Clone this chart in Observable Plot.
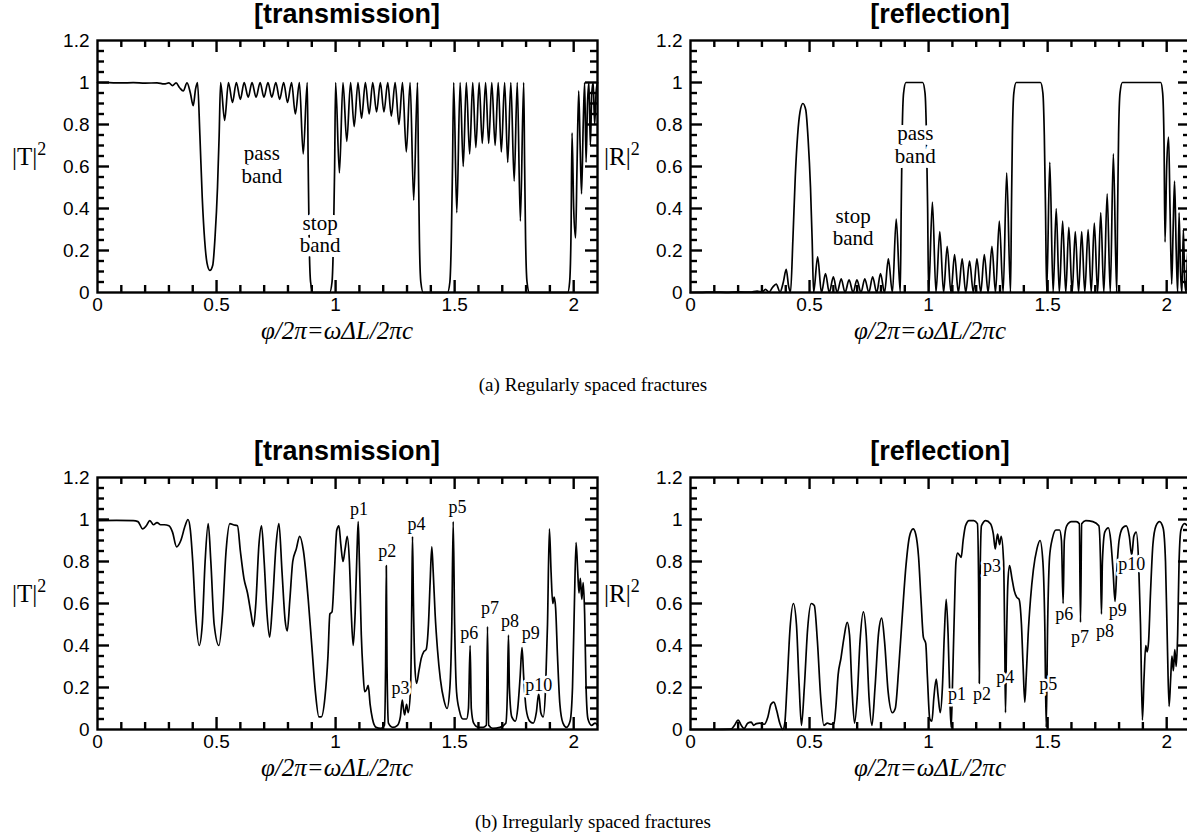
<!DOCTYPE html>
<html><head><meta charset="utf-8">
<script src="https://cdn.jsdelivr.net/npm/d3@7"></script>
<script src="https://cdn.jsdelivr.net/npm/@observablehq/plot@0.6"></script>
<style>
html,body{margin:0;padding:0;background:#fff;}
body{width:1187px;height:838px;overflow:hidden;position:relative;}
.t{position:absolute;transform:translate(-50%,-50%);white-space:nowrap;line-height:1;color:#000;}
.title{font-family:"Liberation Sans",Arial,sans-serif;font-weight:bold;font-size:27px;}
.xlab{font-family:"Liberation Serif","Times New Roman",serif;font-style:italic;font-size:25px;}
.cap{font-family:"Liberation Serif","Times New Roman",serif;font-size:19px;}
.ylab{position:absolute;font-family:"Liberation Serif","Times New Roman",serif;font-size:25px;line-height:1;white-space:nowrap;}
.ylab sup{font-size:18px;vertical-align:0.55em;line-height:0;}
.panel{position:absolute;width:600px;height:300px;}
</style></head><body>
<script>
// ---------- data ----------
const xTickLabels = [0, 0.5, 1, 1.5, 2];
const yTickLabels = [0, 0.2, 0.4, 0.6, 0.8, 1, 1.2];
const xMinorTicks = [0.1,0.2,0.3,0.4,0.6,0.7,0.8,0.9,1.1,1.2,1.3,1.4,1.6,1.7,1.8,1.9];
const xMajorTicks = [0.5, 1, 1.5, 2];
const yMinorTicks = [0.05,0.1,0.15,0.25,0.3,0.35,0.45,0.5,0.55,0.65,0.7,0.75,0.85,0.9,0.95,1.05,1.1,1.15];
const yMajorTicks = [0.2, 0.4, 0.6, 0.8, 1.0];

// (a) regularly spaced: |T|^2
const transRegular = [
[0,1.0],[0.05,0.999],[0.1,0.998],[0.15,0.999],[0.2,0.997],[0.25,0.998],[0.28,0.993],[0.3,0.998],[0.315,0.985],[0.33,0.998],[0.345,0.975],[0.36,0.96],[0.376,0.998],[0.39,0.95],[0.402,0.89],[0.412,0.97],[0.42,1.0],[0.43,0.75],[0.44,0.45],[0.45,0.25],[0.46,0.14],[0.472,0.105],[0.484,0.13],[0.494,0.27],[0.504,0.5],[0.511,0.75],
[0.517,1],[0.534,0.82],[0.55,1],[0.567,0.905],[0.583,1],[0.6,0.92],[0.616,1],[0.633,0.93],[0.649,1],[0.666,0.93],[0.683,1],[0.699,0.93],[0.716,1],[0.732,0.93],[0.749,1],[0.765,0.92],[0.782,1],[0.798,0.905],[0.815,1],[0.831,0.85],[0.848,1],[0.864,0.66],[0.881,1],
[0.885,0.6],[0.889,0.25],[0.895,0.05],[0.905,0],[0.94,0],[0.975,0],[0.985,0.05],[0.991,0.25],[0.996,0.6],
[1.0,1],[1.016,0.57],[1.031,1],[1.047,0.72],[1.063,1],[1.078,0.79],[1.094,1],[1.109,0.83],[1.125,1],[1.141,0.85],[1.156,1],[1.172,0.86],[1.188,1],[1.203,0.86],[1.219,1],[1.234,0.84],[1.25,1],[1.266,0.8],[1.281,1],[1.297,0.67],[1.313,1],[1.328,0.44],[1.344,1],
[1.348,0.6],[1.352,0.25],[1.358,0.05],[1.368,0],[1.42,0],[1.47,0],[1.48,0.05],[1.486,0.25],[1.491,0.6],
[1.496,1],[1.509,0.38],[1.523,1],[1.536,0.6],[1.549,1],[1.563,0.66],[1.576,1],[1.589,0.69],[1.603,1],[1.616,0.71],[1.63,1],[1.643,0.71],[1.656,1],[1.67,0.7],[1.683,1],[1.696,0.67],[1.71,1],[1.723,0.62],[1.736,1],[1.75,0.53],[1.763,1],[1.776,0.34],[1.79,1],
[1.794,0.6],[1.798,0.25],[1.804,0.05],[1.814,0],[1.9,0],[1.975,0],[1.983,0.05],[1.989,0.3],
[1.993,0.76],[2.0,0.4],[2.008,0.26],[2.014,0.6],[2.021,0.96],[2.027,0.7],[2.033,0.47],[2.04,0.8],[2.046,1.0],[2.052,0.62],[2.058,0.9],[2.064,1.0],[2.07,0.7],[2.076,0.95],[2.082,1.0],[2.088,0.8],[2.094,0.95],[2.1,1.0]
];

// (a) regularly spaced: |R|^2
const reflRegular = [
[0,0],[0.05,0.001],[0.1,0.002],[0.15,0.001],[0.2,0.003],[0.25,0.002],[0.28,0.007],[0.3,0.002],[0.315,0.015],[0.33,0.002],[0.345,0.025],[0.36,0.04],[0.376,0.002],[0.39,0.05],[0.402,0.11],[0.412,0.03],[0.42,0],[0.43,0.25],[0.44,0.55],[0.45,0.75],[0.46,0.86],[0.472,0.9],[0.484,0.87],[0.494,0.73],[0.504,0.5],[0.511,0.25],
[0.517,0],[0.534,0.17],[0.55,0],[0.567,0.09],[0.583,0],[0.6,0.075],[0.616,0],[0.633,0.065],[0.649,0],[0.666,0.06],[0.683,0],[0.699,0.06],[0.716,0],[0.732,0.065],[0.749,0],[0.765,0.075],[0.782,0],[0.798,0.09],[0.815,0],[0.831,0.16],[0.848,0],[0.864,0.35],[0.881,0],
[0.885,0.4],[0.889,0.75],[0.895,0.95],[0.905,1],[0.94,1],[0.975,1],[0.985,0.95],[0.991,0.75],[0.996,0.4],
[1.0,0],[1.016,0.43],[1.031,0],[1.047,0.29],[1.063,0],[1.078,0.22],[1.094,0],[1.109,0.18],[1.125,0],[1.141,0.16],[1.156,0],[1.172,0.15],[1.188,0],[1.203,0.16],[1.219,0],[1.234,0.18],[1.25,0],[1.266,0.22],[1.281,0],[1.297,0.34],[1.313,0],[1.328,0.57],[1.344,0],
[1.348,0.4],[1.352,0.75],[1.358,0.95],[1.368,1],[1.42,1],[1.47,1],[1.48,0.95],[1.486,0.75],[1.491,0.4],
[1.496,0],[1.509,0.62],[1.523,0],[1.536,0.4],[1.549,0],[1.563,0.34],[1.576,0],[1.589,0.31],[1.603,0],[1.616,0.29],[1.63,0],[1.643,0.29],[1.656,0],[1.67,0.3],[1.683,0],[1.696,0.33],[1.71,0],[1.723,0.38],[1.736,0],[1.75,0.47],[1.763,0],[1.776,0.66],[1.79,0],
[1.794,0.4],[1.798,0.75],[1.804,0.95],[1.814,1],[1.9,1],[1.975,1],[1.983,0.95],[1.989,0.7],
[1.993,0.24],[2.0,0.6],[2.008,0.74],[2.014,0.4],[2.021,0.04],[2.027,0.3],[2.033,0.53],[2.04,0.2],[2.046,0],[2.052,0.38],[2.058,0.1],[2.064,0],[2.07,0.3],[2.076,0.05],[2.082,0],[2.088,0.2],[2.094,0.05],[2.1,0]
];

// (b) irregularly spaced: |T|^2
const transIrregular = [
[0,0.995],[0.08,0.996],[0.15,0.995],[0.17,0.99],[0.19,0.955],[0.205,0.97],[0.22,0.995],[0.235,0.975],[0.25,0.985],[0.265,0.975],[0.28,0.975],[0.3,0.97],[0.315,0.94],[0.332,0.87],[0.35,0.9],[0.368,0.97],[0.38,1.0],[0.39,0.95],[0.4,0.8],[0.412,0.55],[0.427,0.4],[0.44,0.5],[0.452,0.8],[0.465,0.98],[0.476,0.8],[0.49,0.5],[0.51,0.4],[0.525,0.55],[0.54,0.85],[0.556,0.98],[0.57,0.975],[0.588,0.97],[0.6,0.85],[0.615,0.72],[0.63,0.65],[0.645,0.55],[0.655,0.49],[0.665,0.6],[0.678,0.88],[0.689,0.97],[0.7,0.8],[0.712,0.55],[0.723,0.44],[0.735,0.6],[0.75,0.88],[0.762,0.98],[0.775,0.75],[0.788,0.52],[0.797,0.47],[0.808,0.62],[0.82,0.8],[0.835,0.86],[0.849,0.92],[0.865,0.85],[0.885,0.62],[0.9,0.4],[0.915,0.18],[0.93,0.06],[0.94,0.06],[0.955,0.15],[0.968,0.35],[0.976,0.55],[0.985,0.56],[0.995,0.75],
[1.005,0.95],[1.014,0.97],[1.022,0.88],[1.031,0.8],[1.04,0.86],[1.049,0.92],[1.058,0.8],[1.066,0.55],[1.074,0.4],[1.082,0.55],[1.09,0.85],[1.095,0.99],[1.1,0.8],[1.108,0.45],[1.115,0.28],[1.122,0.18],[1.13,0.19],[1.137,0.21],[1.145,0.12],[1.155,0.05],[1.17,0.01],[1.19,0.005],[1.205,0.02],[1.21,0.3],[1.213,0.78],[1.216,0.3],[1.222,0.03],[1.24,0.01],[1.26,0.02],[1.272,0.06],[1.28,0.14],[1.285,0.1],[1.29,0.07],[1.298,0.12],[1.305,0.08],[1.315,0.2],[1.32,0.6],[1.323,0.92],[1.327,0.6],[1.333,0.3],[1.34,0.22],[1.35,0.28],[1.36,0.34],[1.37,0.37],[1.38,0.38],[1.39,0.5],[1.397,0.7],[1.404,0.87],[1.41,0.75],[1.418,0.55],[1.428,0.38],[1.44,0.24],[1.455,0.14],[1.468,0.1],[1.48,0.2],[1.488,0.5],[1.494,0.99],[1.5,0.5],[1.508,0.18],[1.52,0.09],[1.535,0.05],[1.55,0.05],[1.558,0.1],[1.565,0.4],[1.57,0.1],[1.58,0.03],[1.6,0.01],[1.62,0.01],[1.633,0.02],[1.638,0.49],[1.643,0.02],[1.66,0.005],[1.69,0.01],[1.715,0.03],[1.722,0.2],[1.726,0.45],[1.73,0.2],[1.74,0.06],[1.755,0.04],[1.765,0.1],[1.775,0.25],[1.783,0.39],[1.79,0.25],[1.8,0.1],[1.815,0.04],[1.83,0.03],[1.843,0.08],[1.853,0.17],[1.862,0.08],[1.872,0.06],[1.882,0.2],[1.89,0.5],[1.898,0.955],[1.905,0.75],[1.912,0.6],[1.918,0.63],[1.924,0.58],[1.932,0.35],[1.942,0.12],[1.955,0.03],[1.97,0.01],[1.985,0.04],[1.995,0.2],[2.003,0.6],[2.01,0.89],[2.017,0.75],[2.022,0.65],[2.028,0.72],[2.034,0.62],[2.04,0.7],[2.046,0.55],[2.052,0.2],[2.06,0.05],[2.075,0.02],[2.09,0.03],[2.1,0.02]
];

// (b) irregularly spaced: |R|^2
const reflIrregular = [
[0,0],[0.1,0],[0.17,0.002],[0.185,0.02],[0.2,0.045],[0.213,0.02],[0.225,0.005],[0.24,0.03],[0.255,0.035],[0.265,0.02],[0.277,0.028],[0.29,0.03],[0.31,0.025],[0.325,0.06],[0.338,0.12],[0.35,0.13],[0.362,0.09],[0.375,0.03],[0.388,0],[0.396,0.03],[0.405,0.2],[0.418,0.48],[0.432,0.6],[0.445,0.5],[0.456,0.22],[0.466,0.02],[0.478,0.2],[0.492,0.48],[0.507,0.6],[0.52,0.59],[0.533,0.42],[0.547,0.15],[0.56,0.02],[0.575,0.03],[0.59,0.025],[0.603,0.03],[0.61,0.1],[0.62,0.26],[0.632,0.34],[0.645,0.44],[0.658,0.51],[0.668,0.45],[0.678,0.2],[0.689,0.03],[0.7,0.15],[0.712,0.42],[0.726,0.56],[0.738,0.45],[0.75,0.15],[0.762,0.02],[0.775,0.2],[0.79,0.46],[0.803,0.53],[0.815,0.42],[0.83,0.18],[0.848,0.08],[0.86,0.1],[0.875,0.3],[0.89,0.55],[0.905,0.78],[0.92,0.92],[0.935,0.955],[0.946,0.93],[0.958,0.82],[0.968,0.62],[0.978,0.44],[0.988,0.41],[0.995,0.25],
[1.005,0.05],[1.014,0.04],[1.022,0.15],[1.032,0.24],[1.04,0.16],[1.049,0.08],[1.058,0.2],[1.066,0.45],[1.074,0.62],[1.082,0.45],[1.09,0.12],[1.095,0.01],[1.1,0.2],[1.108,0.55],[1.115,0.8],[1.122,0.84],[1.13,0.83],[1.137,0.82],[1.145,0.9],[1.155,0.97],[1.17,0.995],[1.19,0.995],[1.205,0.98],[1.21,0.7],[1.213,0.22],[1.216,0.7],[1.222,0.97],[1.24,0.995],[1.26,0.98],[1.272,0.93],[1.28,0.86],[1.285,0.9],[1.29,0.93],[1.298,0.88],[1.305,0.92],[1.315,0.8],[1.32,0.4],[1.323,0.08],[1.327,0.4],[1.333,0.7],[1.34,0.78],[1.35,0.72],[1.36,0.66],[1.37,0.63],[1.38,0.62],[1.39,0.5],[1.397,0.3],[1.404,0.13],[1.41,0.25],[1.418,0.45],[1.428,0.62],[1.44,0.76],[1.455,0.86],[1.468,0.9],[1.48,0.8],[1.488,0.5],[1.494,0.01],[1.5,0.5],[1.508,0.82],[1.52,0.91],[1.535,0.95],[1.55,0.95],[1.558,0.9],[1.565,0.6],[1.57,0.9],[1.58,0.97],[1.6,0.99],[1.62,0.99],[1.633,0.98],[1.638,0.51],[1.643,0.98],[1.66,0.995],[1.69,0.99],[1.715,0.97],[1.722,0.8],[1.726,0.55],[1.73,0.8],[1.74,0.94],[1.755,0.96],[1.765,0.9],[1.775,0.75],[1.783,0.61],[1.79,0.75],[1.8,0.9],[1.815,0.96],[1.83,0.97],[1.843,0.92],[1.853,0.83],[1.862,0.92],[1.872,0.94],[1.882,0.8],[1.89,0.5],[1.898,0.045],[1.905,0.25],[1.912,0.4],[1.918,0.37],[1.924,0.42],[1.932,0.65],[1.942,0.88],[1.955,0.97],[1.97,0.99],[1.985,0.96],[1.995,0.8],[2.003,0.4],[2.01,0.11],[2.017,0.25],[2.022,0.35],[2.028,0.28],[2.034,0.38],[2.04,0.3],[2.046,0.45],[2.052,0.8],[2.06,0.95],[2.075,0.98],[2.09,0.97],[2.1,0.98]
];

// annotations
const bandNotesT = [{x:0.69, y:0.61, t:"pass\nband"}, {x:0.935, y:0.28, t:"stop\nband"}];
const bandNotesR = [{x:0.683, y:0.313, t:"stop\nband"}, {x:0.944, y:0.707, t:"pass\nband"}];
const peakNotesT = [{x:1.098,y:1.05,t:"p1"},{x:1.217,y:0.85,t:"p2"},{x:1.273,y:0.2,t:"p3"},{x:1.34,y:0.98,t:"p4"},{x:1.512,y:1.06,t:"p5"},{x:1.561,y:0.46,t:"p6"},{x:1.649,y:0.58,t:"p7"},{x:1.732,y:0.52,t:"p8"},{x:1.82,y:0.46,t:"p9"},{x:1.853,y:0.215,t:"p10"}];
const peakNotesR = [{x:1.119,y:0.17,t:"p1"},{x:1.224,y:0.17,t:"p2"},{x:1.266,y:0.78,t:"p3"},{x:1.322,y:0.25,t:"p4"},{x:1.503,y:0.22,t:"p5"},{x:1.57,y:0.55,t:"p6"},{x:1.636,y:0.44,t:"p7"},{x:1.741,y:0.47,t:"p8"},{x:1.794,y:0.57,t:"p9"},{x:1.853,y:0.79,t:"p10"}];

// ---------- layout ----------
const W = 500, H = 252, mL = 60, mT = 10, mR = 40, mB = 38;
const serif = "Liberation Serif, Times New Roman, serif";
// inward tick lengths: pixels converted to data units
const yMinLen = 7 / H * 1.2, yMajLen = 12 / H * 1.2;
const xMinLen = 7 / W * 2.1, xMajLen = 12 / W * 2.1;

function panel(data, notes, noteSize, halo, frameLeft, frameTop) {
  const tk = {stroke: "#000", strokeWidth: 2.4};
  const svg = Plot.plot({
    width: W + mL + mR, height: H + mT + mB,
    marginLeft: mL, marginTop: mT, marginRight: mR, marginBottom: mB,
    x: {domain: [0, 2.1]},
    y: {domain: [0, 1.2]},
    style: {fontFamily: "Liberation Sans, Arial, sans-serif", fontSize: "19px", color: "#000", background: "transparent", maxWidth: "none", overflow: "visible"},
    marks: [
      Plot.line(data, {x: d => d[0], y: d => d[1], stroke: "#000", strokeWidth: 1.7, curve: "monotone-x"}),
      Plot.text(notes, {x: "x", y: "y", text: "t", fontFamily: serif, fontSize: noteSize, lineHeight: 1.08, fill: "#000", stroke: "#fff", strokeWidth: halo, paintOrder: "stroke"}),
      Plot.ruleX(xMinorTicks, {y1: 0, y2: yMinLen, ...tk}),
      Plot.ruleX(xMinorTicks, {y1: 1.2, y2: 1.2 - yMinLen, ...tk}),
      Plot.ruleX(xMajorTicks, {y1: 0, y2: yMajLen, ...tk}),
      Plot.ruleX(xMajorTicks, {y1: 1.2, y2: 1.2 - yMajLen, ...tk}),
      Plot.ruleY(yMinorTicks, {x1: 0, x2: xMinLen, ...tk}),
      Plot.ruleY(yMinorTicks, {x1: 2.1, x2: 2.1 - xMinLen, ...tk}),
      Plot.ruleY(yMajorTicks, {x1: 0, x2: xMajLen, ...tk}),
      Plot.ruleY(yMajorTicks, {x1: 2.1, x2: 2.1 - xMajLen, ...tk}),
      Plot.frame({stroke: "#000", strokeWidth: 2.4}),
      Plot.axisX({ticks: xTickLabels, tickSize: 0, tickPadding: 5, tickFormat: d => String(d), label: null}),
      Plot.axisY({ticks: yTickLabels, tickSize: 0, tickPadding: 8, tickFormat: d => String(d), label: null})
    ]
  });
  const div = document.createElement("div");
  div.className = "panel";
  div.style.left = (frameLeft - mL) + "px";
  div.style.top = (frameTop - mT) + "px";
  div.appendChild(svg);
  document.body.appendChild(div);
}

function txt(html, cls, x, y) {
  const d = document.createElement("div");
  d.className = "t " + cls;
  d.innerHTML = html;
  d.style.left = x + "px";
  d.style.top = y + "px";
  document.body.appendChild(d);
}
function ylab(html, x, y) {
  const d = document.createElement("div");
  d.className = "ylab";
  d.innerHTML = html;
  d.style.left = x + "px";
  d.style.top = y + "px";
  document.body.appendChild(d);
}

const rows = [
  {top: 40, T: transRegular, R: reflRegular, nT: bandNotesT, nR: bandNotesR, size: 21, halo: 10, cap: "(a) Regularly spaced fractures"},
  {top: 477, T: transIrregular, R: reflIrregular, nT: peakNotesT, nR: peakNotesR, size: 18, halo: 5, cap: "(b) Irregularly spaced fractures"}
];
const leftL = 97, leftR = 690;
const xlabel = "&phi;/2&pi;=&omega;&Delta;<i>L</i>/2&pi;<i>c</i>";
for (const r of rows) {
  panel(r.T, r.nT, r.size, r.halo, leftL, r.top);
  panel(r.R, r.nR, r.size, r.halo, leftR, r.top);
  txt("[transmission]", "title", leftL + W / 2, r.top - 26);
  txt("[reflection]", "title", leftR + W / 2, r.top - 26);
  ylab("|T|<sup>2</sup>", 12, r.top + 104);
  ylab("|R|<sup>2</sup>", 604, r.top + 104);
  txt(xlabel, "xlab", leftL + W / 2 - 10, r.top + H + 38);
  txt(xlabel, "xlab", leftR + W / 2 - 10, r.top + H + 38);
  txt(r.cap, "cap", 593, r.top + H + 92);
}
</script>
</body></html>
